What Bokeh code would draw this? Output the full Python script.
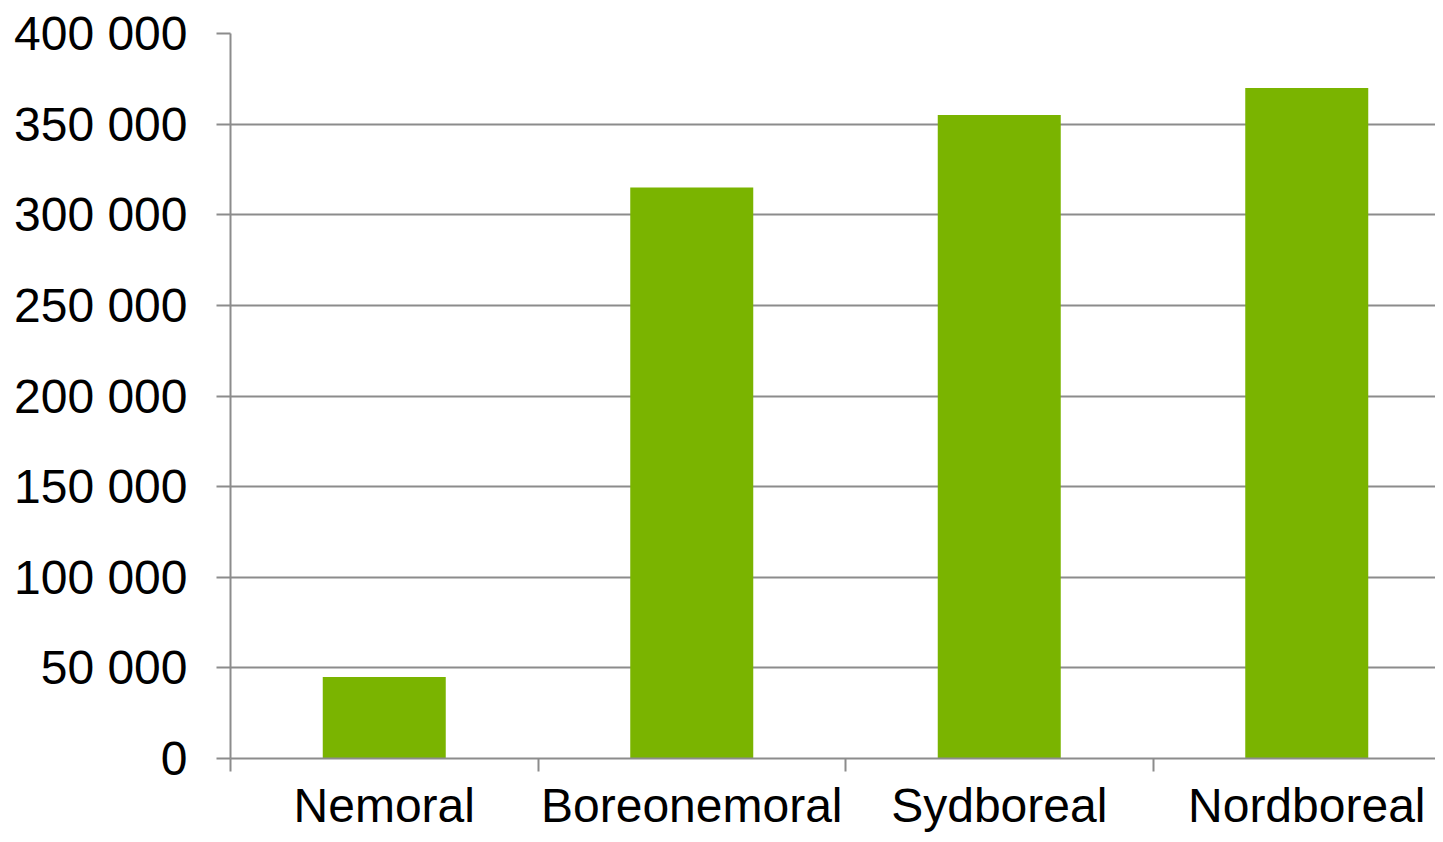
from bokeh.plotting import figure
from bokeh.models import Range1d, FixedTicker, Label
from bokeh.embed import file_html
from bokeh.resources import INLINE

categories = ["Nemoral", "Boreonemoral", "Sydboreal", "Nordboreal"]
values = [45000, 315000, 355000, 370000]
y_ticks = [0, 50000, 100000, 150000, 200000, 250000, 300000, 350000, 400000]
y_labels = ["0", "50 000", "100 000", "150 000", "200 000", "250 000", "300 000", "350 000", "400 000"]
year_text = "2015"

FONT = "Liberation Sans"
BAR = "#7AB400"
GRID = "#8C8C8C"

W, H = 1435, 834
LEFT, TOP = 230, 33
BOTTOM = H - 758
frame_w = W - LEFT
cat_px = 307.5

xs = list(range(len(categories)))
p = figure(width=W, height=H, output_backend="svg", toolbar_location=None,
           x_range=Range1d(-0.5, -0.5 + frame_w / cat_px),
           y_range=Range1d(0, 400000),
           min_border_left=LEFT, min_border_top=TOP, min_border_bottom=BOTTOM,
           min_border_right=0)
p.outline_line_color = None
p.background_fill_color = "white"

p.vbar(x=xs, top=values, width=0.4, fill_color=BAR, line_color=None)

# x axis
xa = p.xaxis[0]
xa.ticker = FixedTicker(ticks=xs, minor_ticks=[i + 0.5 for i in range(-1, len(categories) - 1)])
xa.major_label_overrides = {i: c for i, c in enumerate(categories)}
xa.major_tick_out = 0
xa.major_tick_in = 0
xa.minor_tick_out = 13
xa.minor_tick_in = 0
xa.minor_tick_line_color = GRID
xa.minor_tick_line_width = 2
xa.axis_line_color = GRID
xa.axis_line_width = 2
xa.major_label_text_font = FONT
xa.major_label_text_font_size = "48px"
xa.major_label_text_color = "black"
xa.major_label_standoff = 7

# y axis
ya = p.yaxis[0]
ya.ticker = FixedTicker(ticks=y_ticks)
ya.major_label_overrides = {t: l for t, l in zip(y_ticks, y_labels)}
ya.major_tick_out = 14
ya.major_tick_in = 0
ya.minor_tick_line_color = None
ya.major_tick_line_color = GRID
ya.major_tick_line_width = 2
ya.axis_line_color = GRID
ya.axis_line_width = 2
ya.major_label_text_font = FONT
ya.major_label_text_font_size = "48px"
ya.major_label_text_color = "black"
ya.major_label_standoff = 29

p.xgrid.grid_line_color = None
p.ygrid.ticker = FixedTicker(ticks=y_ticks)
p.ygrid.grid_line_color = GRID
p.ygrid.grid_line_width = 2

px_per_y = 400000 / 725.0
lab = Label(x=-0.5 + 25 / cat_px, y=400000 + 25 * px_per_y, text=year_text,
            text_font=FONT, text_font_size="48px", text_font_style="italic",
            text_color="#78A000", text_baseline="alphabetic")
p.add_layout(lab)

open("out.html", "w").write(file_html(p, INLINE))
